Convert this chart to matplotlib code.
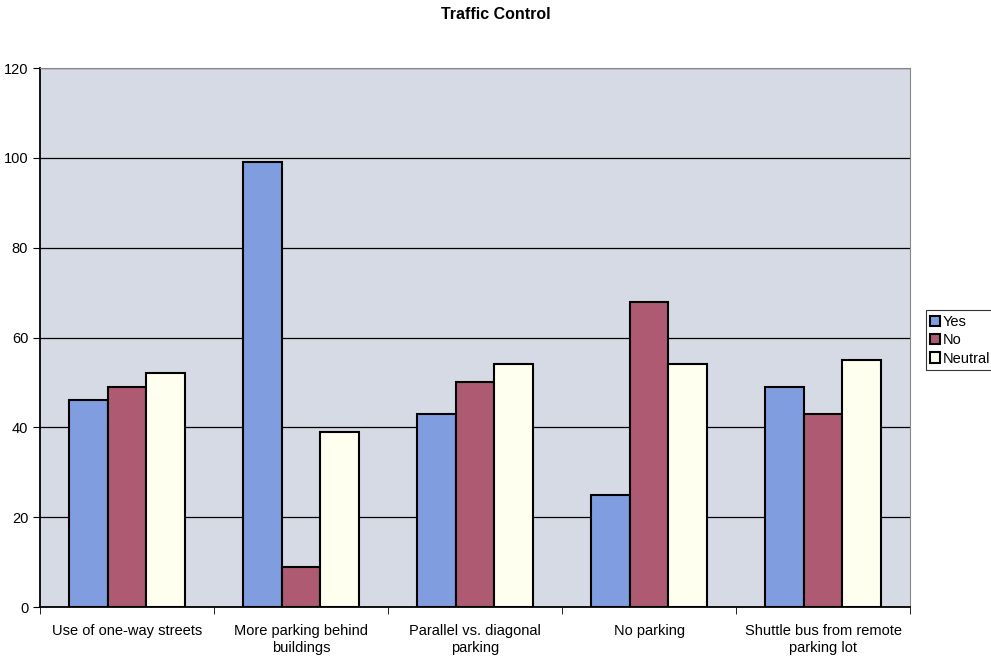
import numpy as np
import matplotlib
matplotlib.use("Agg")
import matplotlib.pyplot as plt

categories = ["Use of one-way streets", "More parking behind\nbuildings",
              "Parallel vs. diagonal\nparking", "No parking",
              "Shuttle bus from remote\nparking lot"]
yes = [46, 99, 43, 25, 49]
no = [49, 9, 50, 68, 43]
neutral = [52, 39, 54, 54, 55]

series = [("Yes", yes, "#7f9ddf"), ("No", no, "#ad5a72"), ("Neutral", neutral, "#fffff0")]

plt.rcParams['font.family'] = ['Liberation Sans', 'DejaVu Sans']

fig = plt.figure(figsize=(9.91, 6.58), dpi=100)
ax = fig.add_axes([0.0404, 0.0775, 0.878, 0.819])
ax.set_facecolor("#d6dae4")

x = np.arange(len(categories))
w = 1 / 4.5
for i, (name, vals, col) in enumerate(series):
    ax.bar(x + (i - 1) * w, vals, w, color=col, edgecolor="black", linewidth=1.5,
           label=name, zorder=3)

ax.set_xlim(-0.5, len(categories) - 0.5)
ax.set_ylim(0, 120)
ax.set_yticks(range(0, 121, 20))
ax.yaxis.grid(True, color="black", linewidth=0.9, zorder=1)
ax.set_xticks(np.arange(len(categories) + 1) - 0.5, minor=True)
ax.set_xticks(x)
ax.set_xticklabels(categories, fontsize=10.5, linespacing=1.3)
ax.tick_params(axis="x", which="major", length=0, pad=12)
ax.tick_params(axis="x", which="minor", length=5, direction="out", color="black")
ax.tick_params(axis="y", length=5, labelsize=10.5, direction="out")
for s in ["top", "right"]:
    ax.spines[s].set_color("#888888")
    ax.spines[s].set_linewidth(0.8)
ax.spines["left"].set_linewidth(1.3)
ax.spines["bottom"].set_linewidth(1.3)

fig.suptitle("Traffic Control", x=0.5, y=0.99, fontsize=11.5, fontweight="bold")

leg = fig.legend(loc="center left", bbox_to_anchor=(0.934, 0.483), frameon=True,
                 fancybox=False, edgecolor="black", fontsize=10.5,
                 handlelength=0.7, handleheight=0.7, handletextpad=0.2,
                 borderpad=0.3, labelspacing=0.3, borderaxespad=0)
leg.get_frame().set_linewidth(0.8)

fig.savefig("out.png", dpi=100)
